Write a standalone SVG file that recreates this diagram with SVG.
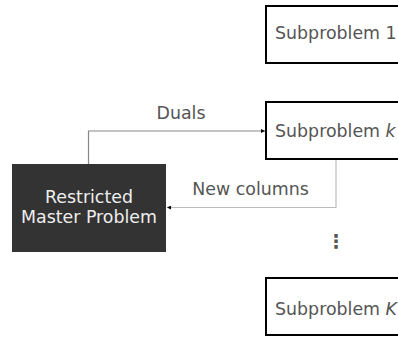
<svg xmlns="http://www.w3.org/2000/svg" width="398" height="337" viewBox="0 0 398 337">
<defs>
<style>
.t{font-family:"DejaVu Sans",sans-serif;font-size:17.4px;fill:#555}
.sub rect{fill:#fff;stroke:#000;stroke-width:2}
.w{fill:#eee;text-anchor:middle}
.c{fill:none;stroke-width:1.2}
</style>
<marker id="ah" viewBox="0 0 6 6" refX="6" refY="3" markerWidth="4" markerHeight="4" orient="auto" markerUnits="userSpaceOnUse">
<path d="M0,0 L6,3 L0,6 z" fill="#000"/>
</marker>
</defs>
<rect width="398" height="337" fill="#fff"/>
<g id="sub1" class="sub">
<rect x="266" y="6" width="140" height="57"/>
<text class="t" x="275" y="39">Subproblem 1</text>
</g>
<g id="subk" class="sub">
<rect x="266" y="102" width="140" height="57"/>
<text class="t" x="275" y="137">Subproblem <tspan font-style="italic">k</tspan></text>
</g>
<g id="subK" class="sub">
<rect x="266" y="278" width="140" height="57"/>
<text class="t" x="275" y="315">Subproblem <tspan font-style="italic">K</tspan></text>
</g>
<g id="master">
<rect x="12" y="164" width="154" height="88" fill="#333"/>
<text class="t w" x="89" y="203">Restricted</text>
<text class="t w" x="89" y="223">Master Problem</text>
</g>
<g id="dots">
<text class="t" x="336" y="248" text-anchor="middle" font-weight="bold" style="font-size:19px">⋮</text>
</g>
<g id="connectors">
<path class="c" d="M88.5,164 V131 H265" stroke="#888" marker-end="url(#ah)"/>
<path class="c" d="M336,160 V207.5 H167" stroke="#bbb" marker-end="url(#ah)"/>
<text class="t" x="181" y="119" text-anchor="middle">Duals</text>
<text class="t" x="250.5" y="195" text-anchor="middle">New columns</text>
</g>
</svg>
